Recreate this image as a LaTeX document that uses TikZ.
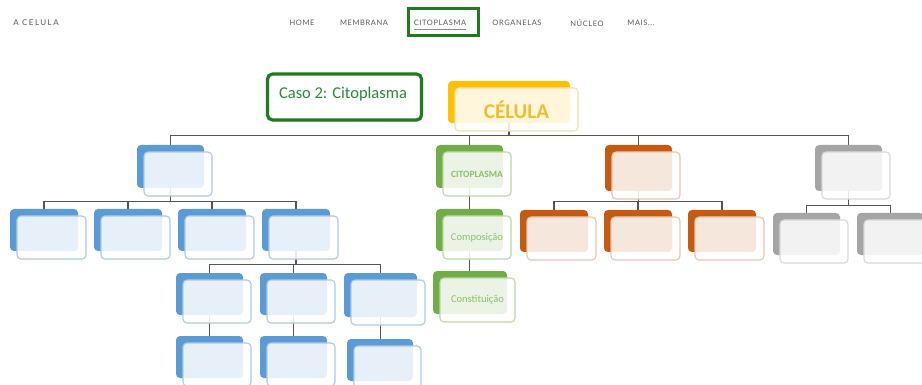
\documentclass[tikz,border=0pt]{standalone}
\usepackage{fontspec}
\setmainfont{Carlito}
\newfontfamily\navfont[LetterSpace=8]{Lato}
\newfontfamily\brandfont[LetterSpace=18]{Lato}
\usetikzlibrary{calc,shadows}

\definecolor{wirec}{HTML}{555555}
\definecolor{navtext}{HTML}{5A5A5A}
\definecolor{selgreen}{HTML}{1E7B1E}
\definecolor{casetext}{HTML}{2B8A38}
% palettes: back colour / outline of the front card / text colour
\definecolor{bluebk}{HTML}{5B9BD5}\definecolor{blueln}{HTML}{AFC8E2}
\definecolor{greenbk}{HTML}{70AD47}\definecolor{greenln}{HTML}{BCD8A8}\definecolor{greentx}{HTML}{8CBF68}
\definecolor{orangebk}{HTML}{C55A11}\definecolor{orangeln}{HTML}{E6C6B2}
\definecolor{graybk}{HTML}{A5A5A5}\definecolor{grayln}{HTML}{D8D8D8}
\definecolor{yellowbk}{HTML}{FFC000}\definecolor{yellowln}{HTML}{F1E0AA}\definecolor{yellowtx}{HTML}{F2BC2F}

\pgfdeclarelayer{paper}
\pgfdeclarelayer{wires}
\pgfsetlayers{paper,wires,main}

\tikzset{
  backbox/.style={draw=none, fill=#1, rounded corners=4pt, inner sep=0pt},
  frontbox/.style={draw=#1, line width=1.1pt, fill=white, fill opacity=0.86,
    text opacity=1, rounded corners=4pt, inner sep=0pt, align=center},
  wire/.style={draw=wirec, line width=1.2pt},
  navitem/.style={font=\navfont\fontsize{7.5}{8}\selectfont, text=navtext, inner sep=0pt},
}

% #1 name, #2 left, #3 top, #4 width, #5 height, #6 palette, #7 text
% the coloured back card is named #1-bk, the light front card #1
\newcommand\cellcard[7]{%
  \node[backbox=#6bk, minimum width=#4pt, minimum height=#5pt]
    (#1-bk) at ({#2+#4/2},{#3+#5/2}) {};
  \node[frontbox=#6ln, minimum width=#4pt+1pt, minimum height=#5pt+1pt]
    (#1) at ({#2+7.5+#4/2},{#3+7.5+#5/2}) {#7};
}

\begin{document}
\begin{tikzpicture}[x=1pt,y=-1pt]
\useasboundingbox (0,0) rectangle (922,385);
\begin{pgfonlayer}{paper}
  \fill[white] (0,0) rectangle (922,385);
\end{pgfonlayer}

% ---- navigation bar ----
\node[draw=selgreen, line width=3pt, minimum width=70pt, minimum height=27pt,
      drop shadow={opacity=0.3, shadow xshift=1pt, shadow yshift=-1pt}, fill=white]
  (citosel) at (443.5,22.5) {};
\node[navitem, font=\brandfont\fontsize{8}{9}\selectfont] (brand) at (36,23) {A CELULA};
\node[navitem] (home) at (302,23) {HOME};
\node[navitem] (memb) at (364,23) {MEMBRANA};
\node[navitem] (cito) at (440,23) {CITOPLASMA};
\node[navitem] (orga) at (517,23) {ORGANELAS};
\node[navitem] (nucl) at (587,23) {NÚCLEO};
\node[navitem] (mais) at (641,23) {MAIS...};
\draw[navtext!70, line width=0.5pt] ($(cito.south west)+(0,3)$) -- ($(cito.south east)+(0,3)$);

% ---- case label ----
\node[draw=selgreen, line width=3.2pt, rounded corners=5pt, fill=white,
      minimum width=154pt, minimum height=46pt,
      drop shadow={opacity=0.35, shadow xshift=1.5pt, shadow yshift=-1.5pt}]
  (caso) at (344.5,97) {};
\node[text=casetext, font=\fontsize{16.5}{18}\selectfont, inner sep=0pt]
  (casotxt) at (343,94) {Caso 2: Citoplasma};

% ---- root ----
\cellcard{cel}{448}{81}{122}{42}{yellow}{\textcolor{yellowtx}{\fontsize{21}{22}\selectfont\bfseries CÉLULA}}

% ---- first level ----
\cellcard{bl}{137}{145}{67}{43}{blue}{}
\cellcard{gr}{436}{145}{67}{43}{green}{\textcolor{greentx}{\fontsize{9.5}{10}\selectfont\bfseries CITOPLASMA}}
\cellcard{or}{605}{145}{67}{46}{orange}{}
\cellcard{gy}{815}{145}{67}{46}{gray}{}

% ---- blue branch ----
\cellcard{bl1}{10}{209}{68}{42}{blue}{}
\cellcard{bl2}{94}{209}{68}{42}{blue}{}
\cellcard{bl3}{178}{209}{68}{42}{blue}{}
\cellcard{bl4}{262}{209}{68}{42}{blue}{}
\cellcard{bl5}{176}{273}{67}{42}{blue}{}
\cellcard{bl6}{260}{273}{67}{42}{blue}{}
\cellcard{bl7}{344}{273}{73}{44}{blue}{}
\cellcard{bl8}{176}{336}{67}{42}{blue}{}
\cellcard{bl9}{260}{336}{67}{42}{blue}{}
\cellcard{bl10}{347}{339}{66}{42}{blue}{}

% ---- green branch ----
\cellcard{gr1}{436}{209}{67}{42}{green}{\textcolor{greentx}{\fontsize{10.5}{11}\selectfont Composição}}
\cellcard{gr2}{433}{271}{74}{43}{green}{\textcolor{greentx}{\fontsize{10.5}{11}\selectfont Constituição}}

% ---- orange branch ----
\cellcard{or1}{520}{210}{68}{42}{orange}{}
\cellcard{or2}{604}{210}{68}{42}{orange}{}
\cellcard{or3}{688}{210}{68}{42}{orange}{}

% ---- gray branch ----
\cellcard{gy1}{773}{213}{67}{42}{gray}{}
\cellcard{gy2}{857}{213}{67}{42}{gray}{}

% ---- connectors ----
\begin{pgfonlayer}{wires}
  \foreach \c in {bl,gr,or,gy}
    \draw[wire] (cel-bk.south) |- ($(\c-bk.north)+(0,-9)$) -- (\c-bk.north);
  \foreach \c in {bl1,bl2,bl3,bl4}
    \draw[wire] (bl-bk.south) |- ($(\c-bk.north)+(0,-7)$) -- (\c-bk.north);
  \foreach \c in {bl5,bl6,bl7}
    \draw[wire] (bl4-bk.south) |- ($(\c-bk.north)+(0,-8)$) -- (\c-bk.north);
  \draw[wire] (bl5-bk.south) -- (bl5-bk.south |- bl8-bk.north);
  \draw[wire] (bl6-bk.south) -- (bl6-bk.south |- bl9-bk.north);
  \draw[wire] (bl7-bk.south) -- (bl7-bk.south |- bl10-bk.north);
  \draw[wire] (gr-bk.south) -- (gr-bk.south |- gr1-bk.north);
  \draw[wire] (gr1-bk.south) -- (gr1-bk.south |- gr2-bk.north);
  \foreach \c in {or1,or2,or3}
    \draw[wire] (or-bk.south) |- ($(\c-bk.north)+(0,-8)$) -- (\c-bk.north);
  \foreach \c in {gy1,gy2}
    \draw[wire] (gy-bk.south) |- ($(\c-bk.north)+(0,-7)$) -- (\c-bk.north);
\end{pgfonlayer}
\end{tikzpicture}
\end{document}
